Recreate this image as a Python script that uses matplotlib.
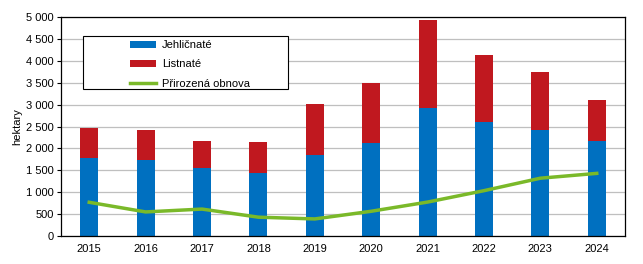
import matplotlib
matplotlib.use("Agg")
import matplotlib.pyplot as plt
from matplotlib.patches import Rectangle
import numpy as np

# data (hectares)
years = ["2015", "2016", "2017", "2018", "2019", "2020", "2021", "2022", "2023", "2024"]
jehlicnate = [1790, 1745, 1560, 1440, 1850, 2125, 2930, 2610, 2430, 2170]
totals = [2475, 2430, 2180, 2135, 3015, 3500, 4940, 4140, 3750, 3110]
listnate = [t - j for t, j in zip(totals, jehlicnate)]
prirozena = [770, 550, 615, 430, 390, 565, 775, 1035, 1320, 1430]

plt.rcParams['font.family'] = ['Liberation Sans', 'DejaVu Sans']
fs = 8

fig = plt.figure(figsize=(6.43, 2.64), dpi=100)
ax = fig.add_axes([0.0949, 0.106, 0.877, 0.8296])

x = np.arange(len(years))
b1 = ax.bar(x, jehlicnate, width=0.32, color="#0070C0", label="Jehličnaté", zorder=2)
b2 = ax.bar(x, listnate, width=0.32, bottom=jehlicnate, color="#C0181F", label="Listnaté", zorder=2)
l1, = ax.plot(x, prirozena, color="#7AB929", linewidth=2.5, label="Přirozená obnova", zorder=3)

ax.set_xlim(-0.5, len(years) - 0.5)
ax.set_ylim(0, 5000)
ax.set_yticks(range(0, 5001, 500))
ax.set_yticklabels([f"{v:,}".replace(",", " ") for v in range(0, 5001, 500)], fontsize=fs)
ax.set_xticks(x)
ax.set_xticklabels(years, fontsize=fs)
ax.tick_params(axis='x', length=0, pad=6)
ax.tick_params(axis='y', length=3, pad=2)
ax.yaxis.grid(True, color="#BFBFBF", linewidth=0.9, zorder=0)
ax.set_axisbelow(True)
for s in ax.spines.values():
    s.set_color("black")
    s.set_linewidth(0.9)
ax.set_ylabel("hektary", fontsize=fs, labelpad=3)

# legend box drawn separately (wide frame like the original)
ax.add_patch(Rectangle((0.0385, 0.671), 0.364, 0.242, transform=ax.transAxes,
                       facecolor="white", edgecolor="black", linewidth=0.8, zorder=4))
leg = ax.legend([b1, b2, l1], ["Jehličnaté", "Listnaté", "Přirozená obnova"],
                loc="upper left", bbox_to_anchor=(0.122, 0.895), fontsize=fs,
                frameon=False, handlelength=2.35, handleheight=0.6, handletextpad=0.55,
                borderpad=0, labelspacing=0.85, borderaxespad=0)
leg.set_zorder(5)

fig.savefig("out.png", dpi=100)
